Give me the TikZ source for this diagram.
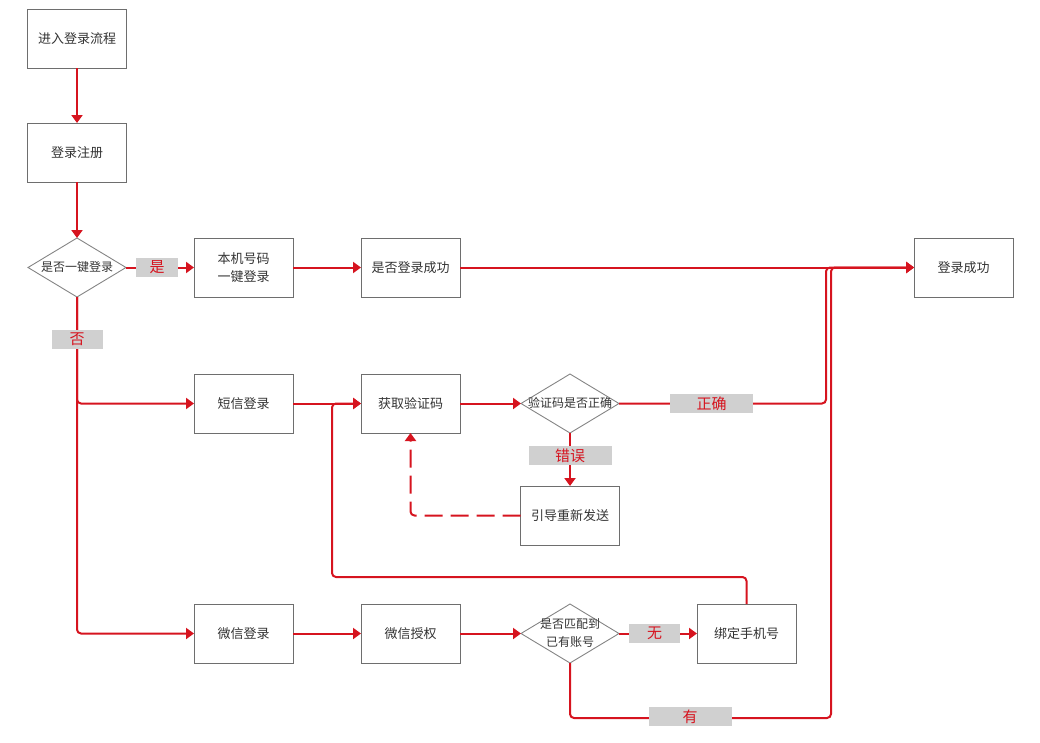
\documentclass[tikz,border=0pt]{standalone}
\usepackage{fontspec}
\newfontfamily\cjkfont{Noto Sans CJK SC}
\usetikzlibrary{positioning,shapes.geometric,arrows.meta}
\definecolor{rosso}{HTML}{D6141F}
\definecolor{grigio}{HTML}{D0D0D0}
\definecolor{bordo}{HTML}{6E6E6E}
\definecolor{testo}{HTML}{333333}
\newcommand{\dtext}[1]{\makebox[0pt]{\begin{tabular}{@{}c@{}}#1\end{tabular}}}

\begin{document}
\begin{tikzpicture}[
	x=1pt,
	y=-1pt,
	node distance=55pt,
	>={Triangle[length=8pt,width=11pt]}
]
\tikzset{
    blocco/.style = {rectangle, draw=bordo, line width=0.9pt, minimum width=99pt, minimum height=59pt, inner sep=0pt, outer sep=0pt, align=center, text=testo, font=\cjkfont\fontsize{13}{18}\selectfont},
    rombo/.style = {diamond, draw=bordo!85, line width=0.9pt, minimum width=98pt, minimum height=59pt, inner sep=0pt, outer sep=0pt, text=testo, font=\cjkfont\fontsize{12}{18}\selectfont},
    etichetta/.style = {rectangle, fill=grigio, text=rosso, minimum height=19pt, inner sep=0pt, outer sep=0pt, font=\cjkfont\fontsize{15}{18}\selectfont},
    freccia/.style = {draw=rosso, line width=2pt, rounded corners=4pt, ->},
}
    \useasboundingbox (0,0) rectangle (1040,742);

    % colonna di sinistra
    \node (start) [blocco] at (77,38.5) {进入登录流程};
    \node (reg) [blocco, below=of start] {登录注册};
    \node (d1) [rombo, below=56pt of reg] {\dtext{是否一键登录}};

    % una riga per ogni modo di accesso
    \node (onekey) [blocco, right=68pt of d1] {本机号码\\一键登录};
    \node (check) [blocco, right=68pt of onekey] {是否登录成功};
    \node (done) [blocco, right=454pt of check] {登录成功};

    \node (sms) [blocco, below=77pt of onekey] {短信登录};
    \node (code) [blocco, right=68pt of sms] {获取验证码};
    \node (d2) [rombo, right=61pt of code] {\dtext{验证码是否正确}};
    \node (resend) [blocco, below=53pt of d2] {引导重新发送};

    \node (wechat) [blocco, below=171pt of sms] {微信登录};
    \node (auth) [blocco, right=68pt of wechat] {微信授权};
    \node (d3) [rombo, right=61pt of auth] {\dtext{是否匹配到\\已有账号}};
    \node (bind) [blocco, right=78pt of d3] {绑定手机号};
    \coordinate (bot) at ([yshift=-55pt]d3.south);

    \draw[freccia] (start) -- (reg);
    \draw[freccia] (reg) -- (d1);
    \draw[freccia] (d1) -- (onekey);
    \draw[freccia] (onekey) -- (check);
    \draw[freccia] (check) -- (done);
    \draw[freccia] (d1.south) |- (sms.west);
    \draw[freccia] (d1.south) |- (wechat.west);
    \draw[freccia] (sms) -- (code);
    \draw[freccia] (code) -- (d2);
    \draw[freccia] (d2.east) -| ([xshift=-88pt]done.west) -- (done.west);
    \draw[freccia] (d2.south) -- (resend.north);
    \draw[freccia, dash pattern=on 18pt off 8pt] (resend.west) -| (code.south);
    \draw[freccia] (bind.north) -- ++(0,-27) -| ([xshift=-29pt]code.west) -- (code.west);
    \draw[freccia] (wechat) -- (auth);
    \draw[freccia] (auth) -- (d3);
    \draw[freccia] (d3) -- (bind);
    \draw[freccia] (d3.south) -- (bot) -| ([xshift=-83pt]done.west) -- (done.west);

    % etichette sopra le linee
    \node (yes) [etichetta, minimum width=42pt, right=10pt of d1] {是};
    \node (no) [etichetta, minimum width=51pt, below=33pt of d1] {否};
    \node (ok) [etichetta, minimum width=83pt, right=51pt of d2] {正确};
    \node (ko) [etichetta, minimum width=83pt, below=13pt of d2] {错误};
    \node (none) [etichetta, minimum width=51pt, right=10pt of d3] {无};
    \node (has) [etichetta, minimum width=83pt, below=44pt of d3, xshift=120pt] {有};
\end{tikzpicture}
\end{document}
